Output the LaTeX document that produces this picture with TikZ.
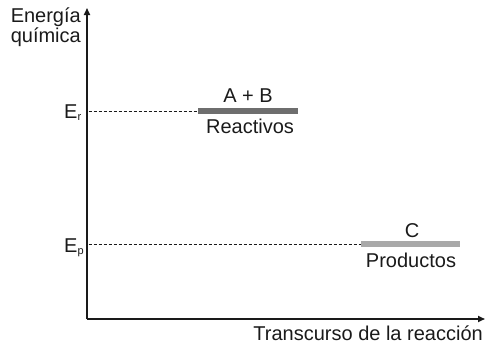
\documentclass[tikz,border=0pt]{standalone}
\usepackage{fontspec}
\setmainfont{Liberation Sans}
\usetikzlibrary{arrows.meta}
\definecolor{txt}{HTML}{1A1A1A}
\definecolor{reactcol}{HTML}{6E6E6E}
\definecolor{prodcol}{HTML}{A9A9A9}
\newcommand{\subsm}[1]{\raisebox{-0.25ex}{\fontsize{11}{11}\selectfont #1}}
\begin{document}
\begin{tikzpicture}[x=1pt,y=-1pt,
  lbl/.style={font=\fontsize{20}{20}\selectfont, inner sep=0pt, text=txt},
  axis/.style={line width=1.6pt, draw=txt, -{Triangle[length=7pt,width=6pt]}},
  guide/.style={draw=txt, dash pattern=on 3pt off 2pt, line width=0.8pt},
  level/.style={line width=5.5pt}]
\useasboundingbox (0,0) rectangle (485,343);
% axes
\coordinate (O) at (87,319);
\coordinate (ytop) at (87,8);
\coordinate (xend) at (485,319);
\draw[axis] (O) -- (ytop);
\draw[axis] (O) -- (xend);
% axis labels
\node[lbl, font=\fontsize{20}{17}\selectfont, align=right, anchor=base east] (en) at (81,42) {Energía\\química};
\node[lbl, anchor=base east] (tr) at (483,340) {Transcurso de la reacción};
% reactants level
\coordinate (r0) at (88.5,111);
\coordinate (r1) at (198,111);
\coordinate (r2) at (298,111);
\draw[guide] (r0) -- (r1);
\draw[level, draw=reactcol] (r1) -- (r2);
\node[lbl, anchor=base west] (Er) at (64,118) {E\subsm{r}};
\node[lbl, anchor=base] (AB) at (248,102) {A + B};
\node[lbl, anchor=base] (re) at (250,133) {Reactivos};
% products level
\coordinate (p0) at (88.5,244);
\coordinate (p1) at (361,244);
\coordinate (p2) at (460,244);
\draw[guide] (p0) -- (p1);
\draw[level, draw=prodcol] (p1) -- (p2);
\node[lbl, anchor=base west] (Ep) at (64,252) {E\subsm{p}};
\node[lbl, anchor=base] (C) at (412,237) {C};
\node[lbl, anchor=base] (pr) at (411,267) {Productos};
\end{tikzpicture}
\end{document}
